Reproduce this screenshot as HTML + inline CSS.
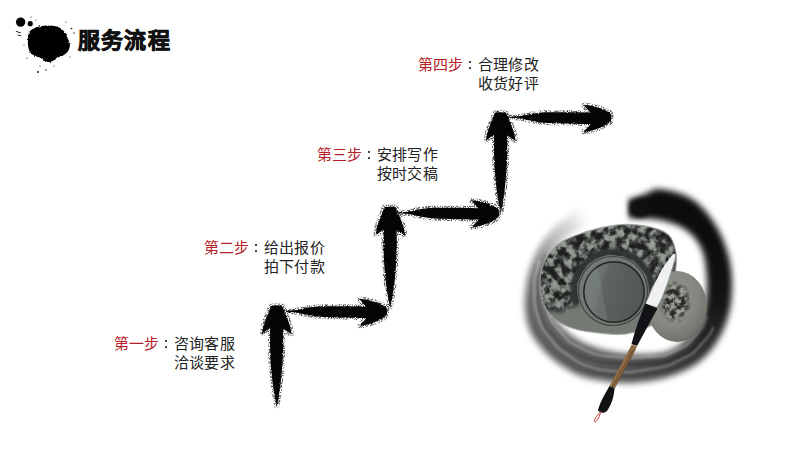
<!DOCTYPE html>
<html lang="zh-CN"><head><meta charset="utf-8">
<style>
html,body{margin:0;padding:0;}
body{width:800px;height:450px;overflow:hidden;background:#fff;position:relative;font-family:"Liberation Sans",sans-serif;}
.t{position:absolute;white-space:nowrap;line-height:1;}
.title{left:78px;top:30px;font-size:22px;font-weight:bold;color:#111;-webkit-text-stroke:0.7px #111;letter-spacing:1.2px;}
.lbl{font-size:15px;color:#b52026;letter-spacing:0.2px;}
.txt{font-size:15px;color:#222;letter-spacing:0.2px;}
.cd{position:absolute;width:2px;height:2px;background:#444;box-shadow:0 6.1px 0 #444;}
svg{position:absolute;left:0;top:0;}
</style></head><body>
<svg width="800" height="450" viewBox="0 0 800 450">
<defs>
<filter id="rough" x="-20%" y="-20%" width="140%" height="140%">
  <feTurbulence type="fractalNoise" baseFrequency="0.9" numOctaves="2" seed="3" result="n"/>
  <feDisplacementMap in="SourceGraphic" in2="n" scale="3" xChannelSelector="R" yChannelSelector="G"/>
</filter>
<filter id="fringe" x="-20%" y="-20%" width="140%" height="140%">
  <feTurbulence type="fractalNoise" baseFrequency="1.2" numOctaves="1" seed="5" result="n"/>
  <feDisplacementMap in="SourceGraphic" in2="n" scale="4" xChannelSelector="R" yChannelSelector="G"/>
</filter>
<filter id="brush" x="-30%" y="-30%" width="160%" height="160%" color-interpolation-filters="sRGB">
  <feTurbulence type="fractalNoise" baseFrequency="0.9" numOctaves="1" seed="3" result="n1"/>
  <feDisplacementMap in="SourceAlpha" in2="n1" scale="2.5" xChannelSelector="R" yChannelSelector="G" result="core"/>
  <feMorphology in="SourceAlpha" operator="dilate" radius="2" result="dil"/>
  <feTurbulence type="fractalNoise" baseFrequency="1.3" numOctaves="1" seed="12" result="n2"/>
  <feColorMatrix in="n2" type="matrix" values="0 0 0 0 0  0 0 0 0 0  0 0 0 0 0  6 0 0 0 -2.7" result="spk"/>
  <feComposite in="spk" in2="dil" operator="in" result="fr"/>
  <feFlood flood-color="#5a5a5a"/><feComposite in2="fr" operator="in" result="frc"/>
  <feFlood flood-color="#050505"/><feComposite in2="core" operator="in" result="corec"/>
  <feMerge><feMergeNode in="frc"/><feMergeNode in="corec"/></feMerge>
</filter>
<filter id="soft"><feGaussianBlur stdDeviation="0.6"/></filter>
<path id="up" d="M -5.8,0.8 Q -5.5,-0.3 -3,-0.3 L 3,-0.3 Q 5.5,-0.3 5.8,0.8 C 8.5,7 12,15 13.5,20 L 15.2,28.5 C 12,26.5 9,24.5 6.6,23 C 6.9,38 6.6,52 5.6,62 C 4.6,75 3,88 0.3,101 C -2.6,88 -4.4,75 -5.4,62 C -6.4,52 -6.6,38 -6.4,22.5 C -9,24 -11.8,26 -14.4,28 L -13.2,20.6 C -11,14 -8,7 -5.8,0.8 Z"/>
<path id="rt" d="M 0,-0.5 C 0,-3 -0.5,-4.2 -1.5,-5 C -6,-8.5 -16,-12 -28.1,-13.3 C -25,-10 -23,-7.2 -20.9,-5.4 C -40,-5.8 -58,-6 -70,-5.6 C -78,-5 -85,-3.2 -90,-1.9 L -101,-1.3 L -101,-0.3 L -90,0.5 C -85,1.8 -78,3.4 -70,4.5 C -58,5.5 -40,5.9 -20.9,5.9 C -23,8.8 -25.5,11.8 -28.5,14.3 C -16,12.5 -6,8 -1.5,4 C -0.5,3 0,2 0,-0.5 Z"/>
<g id="upA"><use href="#up" fill="#000" filter="url(#brush)"/></g>
<g id="rtA"><use href="#rt" fill="#000" filter="url(#brush)"/></g>
<clipPath id="stoneClip"><path d="M540.0,287.0 C539.7,280.0 540.2,272.0 543.0,265.0 C545.8,258.0 550.8,250.2 557.0,245.0 C563.2,239.8 572.0,237.0 580.0,234.0 C588.0,231.0 597.3,228.6 605.0,227.0 C612.7,225.4 618.5,224.5 626.0,224.5 C633.5,224.5 642.9,225.2 650.0,227.0 C657.1,228.8 664.3,230.8 668.6,235.0 C672.9,239.2 674.6,245.8 675.8,252.0 C676.9,258.2 676.1,264.8 675.5,272.0 C674.9,279.2 673.8,288.3 672.0,295.0 C670.2,301.7 668.7,306.8 665.0,312.0 C661.3,317.2 656.7,322.3 650.0,326.0 C643.3,329.7 633.3,332.8 625.0,334.0 C616.7,335.2 608.3,333.8 600.0,333.0 C591.7,332.2 582.3,331.2 575.0,329.0 C567.7,326.8 561.0,323.7 556.0,320.0 C551.0,316.3 547.7,312.5 545.0,307.0 C542.3,301.5 540.3,294.0 540.0,287.0 Z"/></clipPath>
<filter id="carveTex" x="0" y="0" width="100%" height="100%" color-interpolation-filters="sRGB">
  <feTurbulence type="fractalNoise" baseFrequency="0.12" numOctaves="3" seed="9" result="n"/>
  <feColorMatrix in="n" type="matrix" values="1 0 0 0 0  1 0 0 0 0  1 0 0 0 0  0 0 0 0 1"/>
  <feComponentTransfer>
    <feFuncR type="table" tableValues="0.1 0.1 0.11 0.12 0.16 0.3 0.5 0.58 0.6 0.61 0.61"/>
    <feFuncG type="table" tableValues="0.11 0.11 0.12 0.13 0.17 0.31 0.52 0.6 0.62 0.63 0.63"/>
    <feFuncB type="table" tableValues="0.1 0.1 0.11 0.12 0.16 0.3 0.5 0.58 0.6 0.61 0.61"/>
  </feComponentTransfer>
</filter>
<filter id="b2" x="-20%" y="-20%" width="140%" height="140%" color-interpolation-filters="sRGB"><feGaussianBlur stdDeviation="2"/></filter>
<filter id="b1" x="-20%" y="-20%" width="140%" height="140%" color-interpolation-filters="sRGB"><feGaussianBlur stdDeviation="1"/></filter>
<mask id="carveMask" maskUnits="userSpaceOnUse" x="520" y="200" width="180" height="160">
  <path d="M520,200 L700,200 L700,296 L660,300 L640,296 L600,298 L580,305 L560,312 L520,305 Z" fill="#fff" filter="url(#b2)"/>
  <circle cx="613" cy="291" r="36" fill="#000"/>
</mask>
<linearGradient id="wellG" x1="0" y1="0" x2="1" y2="0.3"><stop offset="0" stop-color="#717a74"/><stop offset="0.35" stop-color="#69716c"/><stop offset="0.4" stop-color="#5e6560"/><stop offset="1" stop-color="#525854"/></linearGradient>
<radialGradient id="lidG" cx="0.4" cy="0.35" r="0.7"><stop offset="0" stop-color="#8f9289"/><stop offset="0.6" stop-color="#858880"/><stop offset="0.9" stop-color="#73766e"/><stop offset="1" stop-color="#5e6159"/></radialGradient>
<radialGradient id="lidMG" cx="0.5" cy="0.5" r="0.5"><stop offset="0" stop-color="#fff"/><stop offset="0.6" stop-color="#fff"/><stop offset="1" stop-color="#000"/></radialGradient>
<mask id="lidMask" maskUnits="userSpaceOnUse" x="640" y="260" width="80" height="100"><ellipse cx="675" cy="302" rx="17" ry="22" fill="url(#lidMG)"/></mask>
<filter id="carveTex2" x="0" y="0" width="100%" height="100%" color-interpolation-filters="sRGB">
  <feTurbulence type="fractalNoise" baseFrequency="0.2" numOctaves="4" seed="4" result="n"/>
  <feColorMatrix in="n" type="matrix" values="1 0 0 0 0  1 0 0 0 0  1 0 0 0 0  0 0 0 0 1"/>
  <feComponentTransfer>
    <feFuncR type="table" tableValues="0.15 0.15 0.15 0.16 0.2 0.35 0.55 0.62 0.66 0.68 0.68"/>
    <feFuncG type="table" tableValues="0.16 0.16 0.16 0.17 0.21 0.36 0.56 0.63 0.67 0.69 0.69"/>
    <feFuncB type="table" tableValues="0.15 0.15 0.15 0.16 0.2 0.34 0.53 0.6 0.63 0.65 0.65"/>
  </feComponentTransfer>
</filter>
<clipPath id="lidClip"><ellipse cx="677" cy="306.5" rx="30" ry="35.5"/></clipPath>
<filter id="rb" x="-10%" y="-10%" width="120%" height="120%" color-interpolation-filters="sRGB"><feGaussianBlur stdDeviation="2.5"/></filter>
<filter id="rb2" x="-10%" y="-10%" width="120%" height="120%" color-interpolation-filters="sRGB"><feGaussianBlur stdDeviation="3"/></filter>
<mask id="ringMask" maskUnits="userSpaceOnUse" x="480" y="150" width="300" height="280">
 <g filter="url(#rb2)">
 <path d="M628.0,199.0 C635.8,198.5 639.7,195.7 645.0,194.0 C650.3,192.3 652.2,188.2 660.0,189.0 C667.8,189.8 682.8,193.2 692.0,199.0 C701.2,204.8 709.0,214.8 715.0,224.0 C721.0,233.2 725.2,244.2 728.0,254.0 C730.8,263.8 731.8,273.2 732.0,283.0 C732.2,292.8 731.3,303.5 729.0,313.0 C726.7,322.5 723.0,331.8 718.0,340.0 C713.0,348.2 707.3,355.8 699.0,362.0 C690.7,368.2 679.5,373.5 668.0,377.0 C656.5,380.5 641.7,382.5 630.0,383.0 C618.3,383.5 607.3,381.7 598.0,380.0 C588.7,378.3 582.3,377.2 574.0,373.0 C565.7,368.8 555.2,361.7 548.0,355.0 C540.8,348.3 534.8,340.5 531.0,333.0 C527.2,325.5 525.7,318.8 525.0,310.0 C524.3,301.2 525.3,289.2 527.0,280.0 C528.7,270.8 531.5,262.7 535.0,255.0 C538.5,247.3 542.2,240.8 548.0,234.0 C553.8,227.2 561.7,220.2 570.0,214.0 C578.3,207.8 588.3,199.5 598.0,197.0 C607.7,194.5 620.2,199.5 628.0,199.0 Z" fill="#fff"/>
 <path d="M628.0,218.0 C637.2,218.5 650.3,218.0 660.0,220.0 C669.7,222.0 679.0,225.0 686.0,230.0 C693.0,235.0 698.5,241.7 702.0,250.0 C705.5,258.3 706.5,270.7 707.0,280.0 C707.5,289.3 706.5,298.5 705.0,306.0 C703.5,313.5 701.5,319.0 698.0,325.0 C694.5,331.0 689.8,337.3 684.0,342.0 C678.2,346.7 672.0,351.0 663.0,353.0 C654.0,355.0 640.5,354.7 630.0,354.0 C619.5,353.3 609.2,351.7 600.0,349.0 C590.8,346.3 582.3,342.8 575.0,338.0 C567.7,333.2 560.7,326.3 556.0,320.0 C551.3,313.7 548.8,306.7 547.0,300.0 C545.2,293.3 544.5,287.0 545.0,280.0 C545.5,273.0 547.0,264.7 550.0,258.0 C553.0,251.3 557.2,245.3 563.0,240.0 C568.8,234.7 578.0,229.8 585.0,226.0 C592.0,222.2 597.8,218.3 605.0,217.0 C612.2,215.7 618.8,217.5 628.0,218.0 Z" fill="#000"/>
 </g>
</mask>
</defs>

<!-- ink blob -->
<g fill="#050505">
<path filter="url(#rough)" d="M33.3,28.7 C38,26 44,25.4 48.9,25.6 C54,25.6 58,26.5 61.3,28.7 C64.5,31 66.5,34.5 67.5,38 C69,41 70.2,43.5 69.9,45.8 C69.5,48.5 68.8,50.5 67.5,52 C65,54.5 62.5,55.8 59.8,56.7 C56,58.5 52.5,62 48.9,62.1 C45.5,62 43,59.5 41.1,58.2 C38.5,57 35.5,56.5 33.3,55.1 C30.5,53 29,51 28.7,48.9 C28,45.5 27.6,42.5 27.9,39.5 C28,36 28.2,33.5 29.4,31.8 C30.5,30.2 31.8,29.4 33.3,28.7 Z"/>
<circle cx="20.6" cy="22.1" r="4.7"/>
<circle cx="30.2" cy="23.7" r="2.6"/>
<circle cx="38" cy="72" r="0.9"/>
<circle cx="46" cy="70" r="0.7"/>
<circle cx="71.5" cy="28.5" r="0.8"/>
<circle cx="31" cy="17" r="0.6"/>
<path d="M16,31 l5,1.5 l-0.3,0.8 l-5,-1.5z M17.5,34.5 l4,1 l-0.2,0.7 l-4,-1z"/>
<circle cx="74" cy="33" r="0.7"/><circle cx="70" cy="57" r="0.6"/><circle cx="27" cy="58" r="0.6"/><circle cx="24" cy="45" r="0.5"/>
<circle cx="40" cy="66" r="0.6"/><circle cx="54" cy="66" r="0.5"/><circle cx="66" cy="22" r="0.5"/><circle cx="36" cy="20" r="0.5"/>
</g>

<!-- ring -->
<g mask="url(#ringMask)"><g filter="url(#rb)">
<path d="M628,287L628.0,147.0L636.8,147.3Z" fill="#242424"/>
<path d="M628,287L635.3,147.2L644.1,147.9Z" fill="#121212"/>
<path d="M628,287L642.6,147.8L651.3,149.0Z" fill="#0e0e0e"/>
<path d="M628,287L649.9,148.7L658.5,150.4Z" fill="#0c0c0c"/>
<path d="M628,287L657.1,150.1L665.6,152.2Z" fill="#0c0c0c"/>
<path d="M628,287L664.2,151.8L672.7,154.3Z" fill="#0c0c0c"/>
<path d="M628,287L671.3,153.9L679.5,156.8Z" fill="#0c0c0c"/>
<path d="M628,287L678.2,156.3L686.3,159.7Z" fill="#0c0c0c"/>
<path d="M628,287L684.9,159.1L692.9,162.9Z" fill="#0c0c0c"/>
<path d="M628,287L691.6,162.3L699.3,166.5Z" fill="#0c0c0c"/>
<path d="M628,287L698.0,165.8L705.5,170.4Z" fill="#0c0c0c"/>
<path d="M628,287L704.2,169.6L711.5,174.6Z" fill="#0c0c0c"/>
<path d="M628,287L710.3,173.7L717.2,179.1Z" fill="#0c0c0c"/>
<path d="M628,287L716.1,178.2L722.8,183.9Z" fill="#0c0c0c"/>
<path d="M628,287L721.7,183.0L728.0,189.0Z" fill="#0c0c0c"/>
<path d="M628,287L727.0,188.0L733.0,194.4Z" fill="#0c0c0c"/>
<path d="M628,287L732.0,193.3L737.7,200.0Z" fill="#0c0c0c"/>
<path d="M628,287L736.8,198.9L742.1,205.9Z" fill="#0c0c0c"/>
<path d="M628,287L741.3,204.7L746.2,212.0Z" fill="#0c0c0c"/>
<path d="M628,287L745.4,210.8L750.0,218.3Z" fill="#0c0c0c"/>
<path d="M628,287L749.2,217.0L753.4,224.8Z" fill="#0c0c0c"/>
<path d="M628,287L752.7,223.4L756.5,231.4Z" fill="#0d0d0d"/>
<path d="M628,287L755.9,230.1L759.2,238.2Z" fill="#0e0e0e"/>
<path d="M628,287L758.7,236.8L761.6,245.1Z" fill="#0e0e0e"/>
<path d="M628,287L761.1,243.7L763.6,252.2Z" fill="#0f0f0f"/>
<path d="M628,287L763.2,250.8L765.2,259.3Z" fill="#0f0f0f"/>
<path d="M628,287L764.9,257.9L766.5,266.5Z" fill="#101010"/>
<path d="M628,287L766.3,265.1L767.4,273.8Z" fill="#101010"/>
<path d="M628,287L767.2,272.4L767.9,281.1Z" fill="#111111"/>
<path d="M628,287L767.8,279.7L768.0,288.5Z" fill="#121212"/>
<path d="M628,287L768.0,287.0L767.7,295.8Z" fill="#121212"/>
<path d="M628,287L767.8,294.3L767.1,303.1Z" fill="#131313"/>
<path d="M628,287L767.2,301.6L766.0,310.3Z" fill="#141414"/>
<path d="M628,287L766.3,308.9L764.6,317.5Z" fill="#141414"/>
<path d="M628,287L764.9,316.1L762.8,324.6Z" fill="#181818"/>
<path d="M628,287L763.2,323.2L760.7,331.7Z" fill="#1a1a1a"/>
<path d="M628,287L761.1,330.3L758.2,338.5Z" fill="#1e1e1e"/>
<path d="M628,287L758.7,337.2L755.3,345.3Z" fill="#202020"/>
<path d="M628,287L755.9,343.9L752.1,351.9Z" fill="#242424"/>
<path d="M628,287L752.7,350.6L748.5,358.3Z" fill="#262626"/>
<path d="M628,287L749.2,357.0L744.6,364.5Z" fill="#2a2a2a"/>
<path d="M628,287L745.4,363.2L740.4,370.5Z" fill="#2c2c2c"/>
<path d="M628,287L741.3,369.3L735.9,376.2Z" fill="#303030"/>
<path d="M628,287L736.8,375.1L731.1,381.8Z" fill="#323232"/>
<path d="M628,287L732.0,380.7L726.0,387.0Z" fill="#353535"/>
<path d="M628,287L727.0,386.0L720.6,392.0Z" fill="#373737"/>
<path d="M628,287L721.7,391.0L715.0,396.7Z" fill="#393939"/>
<path d="M628,287L716.1,395.8L709.1,401.1Z" fill="#3b3b3b"/>
<path d="M628,287L710.3,400.3L703.0,405.2Z" fill="#3d3d3d"/>
<path d="M628,287L704.2,404.4L696.7,409.0Z" fill="#3f3f3f"/>
<path d="M628,287L698.0,408.2L690.2,412.4Z" fill="#414141"/>
<path d="M628,287L691.6,411.7L683.6,415.5Z" fill="#444444"/>
<path d="M628,287L684.9,414.9L676.8,418.2Z" fill="#454545"/>
<path d="M628,287L678.2,417.7L669.9,420.6Z" fill="#474747"/>
<path d="M628,287L671.3,420.1L662.8,422.6Z" fill="#484848"/>
<path d="M628,287L664.2,422.2L655.7,424.2Z" fill="#4a4a4a"/>
<path d="M628,287L657.1,423.9L648.5,425.5Z" fill="#4c4c4c"/>
<path d="M628,287L649.9,425.3L641.2,426.4Z" fill="#4d4d4d"/>
<path d="M628,287L642.6,426.2L633.9,426.9Z" fill="#4f4f4f"/>
<path d="M628,287L635.3,426.8L626.5,427.0Z" fill="#505050"/>
<path d="M628,287L628.0,427.0L619.2,426.7Z" fill="#515151"/>
<path d="M628,287L620.7,426.8L611.9,426.1Z" fill="#525252"/>
<path d="M628,287L613.4,426.2L604.7,425.0Z" fill="#535353"/>
<path d="M628,287L606.1,425.3L597.5,423.6Z" fill="#535353"/>
<path d="M628,287L598.9,423.9L590.4,421.8Z" fill="#545454"/>
<path d="M628,287L591.8,422.2L583.3,419.7Z" fill="#555555"/>
<path d="M628,287L584.7,420.1L576.5,417.2Z" fill="#565656"/>
<path d="M628,287L577.8,417.7L569.7,414.3Z" fill="#575757"/>
<path d="M628,287L571.1,414.9L563.1,411.1Z" fill="#585858"/>
<path d="M628,287L564.4,411.7L556.7,407.5Z" fill="#595959"/>
<path d="M628,287L558.0,408.2L550.5,403.6Z" fill="#595959"/>
<path d="M628,287L551.8,404.4L544.5,399.4Z" fill="#5a5a5a"/>
<path d="M628,287L545.7,400.3L538.8,394.9Z" fill="#5b5b5b"/>
<path d="M628,287L539.9,395.8L533.2,390.1Z" fill="#5c5c5c"/>
<path d="M628,287L534.3,391.0L528.0,385.0Z" fill="#5d5d5d"/>
<path d="M628,287L529.0,386.0L523.0,379.6Z" fill="#5e5e5e"/>
<path d="M628,287L524.0,380.7L518.3,374.0Z" fill="#5f5f5f"/>
<path d="M628,287L519.2,375.1L513.9,368.1Z" fill="#606060"/>
<path d="M628,287L514.7,369.3L509.8,362.0Z" fill="#616161"/>
<path d="M628,287L510.6,363.2L506.0,355.7Z" fill="#626262"/>
<path d="M628,287L506.8,357.0L502.6,349.2Z" fill="#636363"/>
<path d="M628,287L503.3,350.6L499.5,342.6Z" fill="#646464"/>
<path d="M628,287L500.1,343.9L496.8,335.8Z" fill="#656565"/>
<path d="M628,287L497.3,337.2L494.4,328.9Z" fill="#676767"/>
<path d="M628,287L494.9,330.3L492.4,321.8Z" fill="#696969"/>
<path d="M628,287L492.8,323.2L490.8,314.7Z" fill="#6b6b6b"/>
<path d="M628,287L491.1,316.1L489.5,307.5Z" fill="#6d6d6d"/>
<path d="M628,287L489.7,308.9L488.6,300.2Z" fill="#6e6e6e"/>
<path d="M628,287L488.8,301.6L488.1,292.9Z" fill="#717171"/>
<path d="M628,287L488.2,294.3L488.0,285.5Z" fill="#747474"/>
<path d="M628,287L488.0,287.0L488.3,278.2Z" fill="#777777"/>
<path d="M628,287L488.2,279.7L488.9,270.9Z" fill="#7a7a7a"/>
<path d="M628,287L488.8,272.4L490.0,263.7Z" fill="#7f7f7f"/>
<path d="M628,287L489.7,265.1L491.4,256.5Z" fill="#848484"/>
<path d="M628,287L491.1,257.9L493.2,249.4Z" fill="#8a8a8a"/>
<path d="M628,287L492.8,250.8L495.3,242.3Z" fill="#8f8f8f"/>
<path d="M628,287L494.9,243.7L497.8,235.5Z" fill="#959595"/>
<path d="M628,287L497.3,236.8L500.7,228.7Z" fill="#9d9d9d"/>
<path d="M628,287L500.1,230.1L503.9,222.1Z" fill="#a6a6a6"/>
<path d="M628,287L503.3,223.4L507.5,215.7Z" fill="#afafaf"/>
<path d="M628,287L506.8,217.0L511.4,209.5Z" fill="#b8b8b8"/>
<path d="M628,287L510.6,210.8L515.6,203.5Z" fill="#bfbfbf"/>
<path d="M628,287L514.7,204.7L520.1,197.8Z" fill="#c6c6c6"/>
<path d="M628,287L519.2,198.9L524.9,192.2Z" fill="#cdcdcd"/>
<path d="M628,287L524.0,193.3L530.0,187.0Z" fill="#d4d4d4"/>
<path d="M628,287L529.0,188.0L535.4,182.0Z" fill="#dbdbdb"/>
<path d="M628,287L534.3,183.0L541.0,177.3Z" fill="#e4e4e4"/>
<path d="M628,287L539.9,178.2L546.9,172.9Z" fill="#ececec"/>
<path d="M628,287L545.7,173.7L553.0,168.8Z" fill="#f4f4f4"/>
<path d="M628,287L551.8,169.6L559.3,165.0Z" fill="#fbfbfb"/>
</g><g filter="url(#b1)"><path d="M707.2,315.8L705.0,321.3L702.9,326.8L699.3,331.6L695.4,336.0L691.6,340.3L687.7,344.6L682.6,347.6L677.3,350.1L672.2,352.5L667.2,354.9L661.8,356.3L656.2,356.7L650.7,356.9L645.5,357.2L640.4,357.6L635.5,358.0L630.5,358.4L625.5,358.0L620.6,357.6L615.6,357.1L610.6,356.6L605.5,356.2L600.4,355.4L595.3,354.1L590.3,352.3L585.4,350.2L580.5,347.8L575.6,345.2L570.5,342.5L566.4,338.7L562.6,334.5L558.8,330.2L554.9,325.9L551.3,321.2L549.3,315.6L547.3,310.2L545.2,304.6L543.8,298.8L543.4,292.9L543.0,287.0L542.6,281.0L543.6,275.1L544.9,269.3L546.2,263.5L547.6,257.7L550.8,252.6L554.0,247.7" fill="none" stroke="#fff" stroke-opacity="0.35" stroke-width="2.2"/>
<path d="M706.6,332.4L702.6,337.3L698.5,342.1L694.4,346.8L690.0,351.2L684.3,354.1L678.6,356.7L673.1,359.2L667.7,361.7L661.8,362.8L655.7,363.2L649.9,363.5L644.3,363.9L638.9,364.2L633.4,364.7L628.0,364.8L622.6,364.1L617.2,363.6L611.8,363.1L606.3,362.6L600.7,361.9L595.1,360.9L589.6,359.2L583.9,357.5L578.7,354.9L573.4,352.1L568.0,349.1L562.8,345.7L558.4,341.4L554.3,336.7L550.2,331.9L546.0,327.0L543.5,321.1L541.6,315.1L539.7,309.0L538.4,302.8L538.2,296.4L538.2,290.1L538.2,283.9L538.8,277.6L540.4,271.6L542.0,265.6L543.6,259.6L546.1,253.9" fill="none" stroke="#000" stroke-opacity="0.18" stroke-width="2.5"/>
<path d="M713.6,326.9L710.9,333.0L706.9,338.2L702.4,343.1L698.1,347.9L693.7,352.7L688.0,356.1L682.2,358.9L676.5,361.7L671.0,364.5L665.1,366.6L659.0,367.8L653.0,368.6L647.1,369.5L641.2,370.5L635.4,371.4L629.5,372.3L623.6,371.9L617.6,371.4L611.7,370.9L605.7,370.3L599.6,369.5L593.7,367.9L587.7,366.0L581.8,363.9L576.3,360.8L571.1,357.3L565.8,353.7L560.5,350.0L555.8,345.5L551.8,340.4L547.7,335.2L543.5,330.1L540.4,324.2L538.4,317.9L536.4,311.6L534.8,305.1L534.4,298.5L534.3,291.9L534.2,285.4L534.4,278.8L536.1,272.4L537.7,266.2L539.4,259.9" fill="none" stroke="#fff" stroke-opacity="0.3" stroke-width="2"/>
<path d="M709.7,344.2L705.1,349.4L700.4,354.5L695.4,359.3L688.9,362.2L682.7,365.1L676.5,367.8L670.5,370.4L664.2,372.3L657.6,373.0L651.3,373.8L645.0,374.6L638.9,375.4L632.7,376.3L626.4,376.4L620.2,376.0L614.0,375.5L607.7,375.1L601.2,374.7L594.8,373.5L588.4,372.0L581.8,370.3L575.4,368.1L569.6,364.4L563.9,360.8L558.1,356.9L552.3,352.8L547.7,347.5L543.5,341.9L539.2,336.2L535.1,330.3L533.3,323.4L531.6,316.5L529.9,309.7L529.8,302.6L530.2,295.6L530.6,288.7L530.9,281.9L532.4,275.3L534.4,268.8L536.2,262.4" fill="none" stroke="#000" stroke-opacity="0.12" stroke-width="2"/>
</g></g>
<ellipse cx="640" cy="208" rx="10" ry="9.5" fill="#111" filter="url(#b2)"/>

<!-- stone -->
<path d="M540.0,287.0 C539.7,280.0 540.2,272.0 543.0,265.0 C545.8,258.0 550.8,250.2 557.0,245.0 C563.2,239.8 572.0,237.0 580.0,234.0 C588.0,231.0 597.3,228.6 605.0,227.0 C612.7,225.4 618.5,224.5 626.0,224.5 C633.5,224.5 642.9,225.2 650.0,227.0 C657.1,228.8 664.3,230.8 668.6,235.0 C672.9,239.2 674.6,245.8 675.8,252.0 C676.9,258.2 676.1,264.8 675.5,272.0 C674.9,279.2 673.8,288.3 672.0,295.0 C670.2,301.7 668.7,306.8 665.0,312.0 C661.3,317.2 656.7,322.3 650.0,326.0 C643.3,329.7 633.3,332.8 625.0,334.0 C616.7,335.2 608.3,333.8 600.0,333.0 C591.7,332.2 582.3,331.2 575.0,329.0 C567.7,326.8 561.0,323.7 556.0,320.0 C551.0,316.3 547.7,312.5 545.0,307.0 C542.3,301.5 540.3,294.0 540.0,287.0 Z" fill="#747974"/>
<g clip-path="url(#stoneClip)">
 <g mask="url(#carveMask)"><rect x="530" y="215" width="155" height="125" fill="#fff" filter="url(#carveTex)"/></g>
 <circle cx="613" cy="291" r="39" fill="none" stroke="#323633" stroke-width="7" filter="url(#b1)" mask="url(#carveMask)"/>
</g>
<path d="M540.0,287.0 C539.7,280.0 540.2,272.0 543.0,265.0 C545.8,258.0 550.8,250.2 557.0,245.0 C563.2,239.8 572.0,237.0 580.0,234.0 C588.0,231.0 597.3,228.6 605.0,227.0 C612.7,225.4 618.5,224.5 626.0,224.5 C633.5,224.5 642.9,225.2 650.0,227.0 C657.1,228.8 664.3,230.8 668.6,235.0 C672.9,239.2 674.6,245.8 675.8,252.0 C676.9,258.2 676.1,264.8 675.5,272.0 C674.9,279.2 673.8,288.3 672.0,295.0 C670.2,301.7 668.7,306.8 665.0,312.0 C661.3,317.2 656.7,322.3 650.0,326.0 C643.3,329.7 633.3,332.8 625.0,334.0 C616.7,335.2 608.3,333.8 600.0,333.0 C591.7,332.2 582.3,331.2 575.0,329.0 C567.7,326.8 561.0,323.7 556.0,320.0 C551.0,316.3 547.7,312.5 545.0,307.0 C542.3,301.5 540.3,294.0 540.0,287.0 Z" fill="none" stroke="#9da19c" stroke-width="1.3" opacity="0.8"/>
<circle cx="613" cy="291" r="34.5" fill="#737a75" stroke="#3e423f" stroke-width="1.2"/>
<circle cx="614" cy="292" r="31" fill="#222624"/>
<circle cx="614" cy="292" r="29.5" fill="url(#wellG)"/>
<path d="M 597,267 C 601,280 603,300 608,321 L 598,318 C 590,312 585,302 585,292 C 585,280 590,271 597,267 Z" fill="#8b928d" opacity="0.3"/>

<!-- lid -->
<ellipse cx="677" cy="306.5" rx="30" ry="35.5" fill="url(#lidG)"/>
<g clip-path="url(#lidClip)">
<g mask="url(#lidMask)"><rect x="650" y="270" width="60" height="75" fill="#fff" filter="url(#carveTex2)"/></g>
</g>

<!-- brush -->
<path d="M 675,254 C 677,256 673,266 670.6,274 C 668,283 664.4,291.6 662,298 C 660,302 658.5,305 657.2,307 L 645.7,304 C 647,300 648,299 649,297 C 652,289 655,283 658,277 C 662,268 668,260 672,255.5 C 673,254.5 674,253.5 675,254 Z" fill="#eef1f0"/>
<path d="M 675.5,254.5 C 676,258 673,266 670.6,274 C 668,283 664.4,291.6 662,298 C 660,302 658.5,305 657.2,307" fill="none" stroke="#8a9290" stroke-width="1"/>
<path d="M 645.5,303.5 L 657.5,308.5 C 650,322 643,335 637,346 L 631.5,344 C 635,330 640,316 645.5,303.5 Z" fill="#111316"/>
<path d="M 631.8,344.5 L 637,346.5 L 614.5,388 L 609.5,386 Z" fill="#8e6b45"/>
<path d="M 633,350 L 612,388 M 635.5,349 L 614,389" stroke="#5a3a1e" stroke-width="0.7"/>
<path d="M 609.5,386 L 614.5,388 C 614,396 612,404 607,411 C 604,414 599,413 598,410 C 600,402 605,394 609.5,386 Z" fill="#121212"/>
<path d="M601,411.5 C598,414.5 594,418.5 594.5,421.5 C595.5,423.5 598.5,419 600.5,413" fill="none" stroke="#c83a3a" stroke-width="1"/>

<!-- arrows -->
<use href="#upA" x="276.5" y="305.7"/>
<use href="#upA" x="390" y="207"/>
<use href="#upA" x="500.5" y="112.5"/>
<use href="#rtA" x="387.1" y="312"/>
<use href="#rtA" x="499.2" y="213.6"/>
<use href="#rtA" x="611.4" y="118"/>
</svg>

<div class="t title">服务流程</div>
<div class="t lbl" style="left:418px;top:57px">第四步</div>
<div class="cd" style="left:469px;top:60.6px"></div>
<div class="t txt" style="left:478px;top:57px">合理修改</div>
<div class="t txt" style="left:478px;top:75.5px">收货好评</div>
<div class="t lbl" style="left:317px;top:147px">第三步</div>
<div class="cd" style="left:368px;top:150.6px"></div>
<div class="t txt" style="left:377px;top:147px">安排写作</div>
<div class="t txt" style="left:377px;top:165.5px">按时交稿</div>
<div class="t lbl" style="left:204px;top:240px">第二步</div>
<div class="cd" style="left:255px;top:243.6px"></div>
<div class="t txt" style="left:264px;top:240px">给出报价</div>
<div class="t txt" style="left:264px;top:258.5px">拍下付款</div>
<div class="t lbl" style="left:114px;top:336px">第一步</div>
<div class="cd" style="left:165px;top:339.6px"></div>
<div class="t txt" style="left:174px;top:336px">咨询客服</div>
<div class="t txt" style="left:174px;top:354.5px">洽谈要求</div>

</body></html>
